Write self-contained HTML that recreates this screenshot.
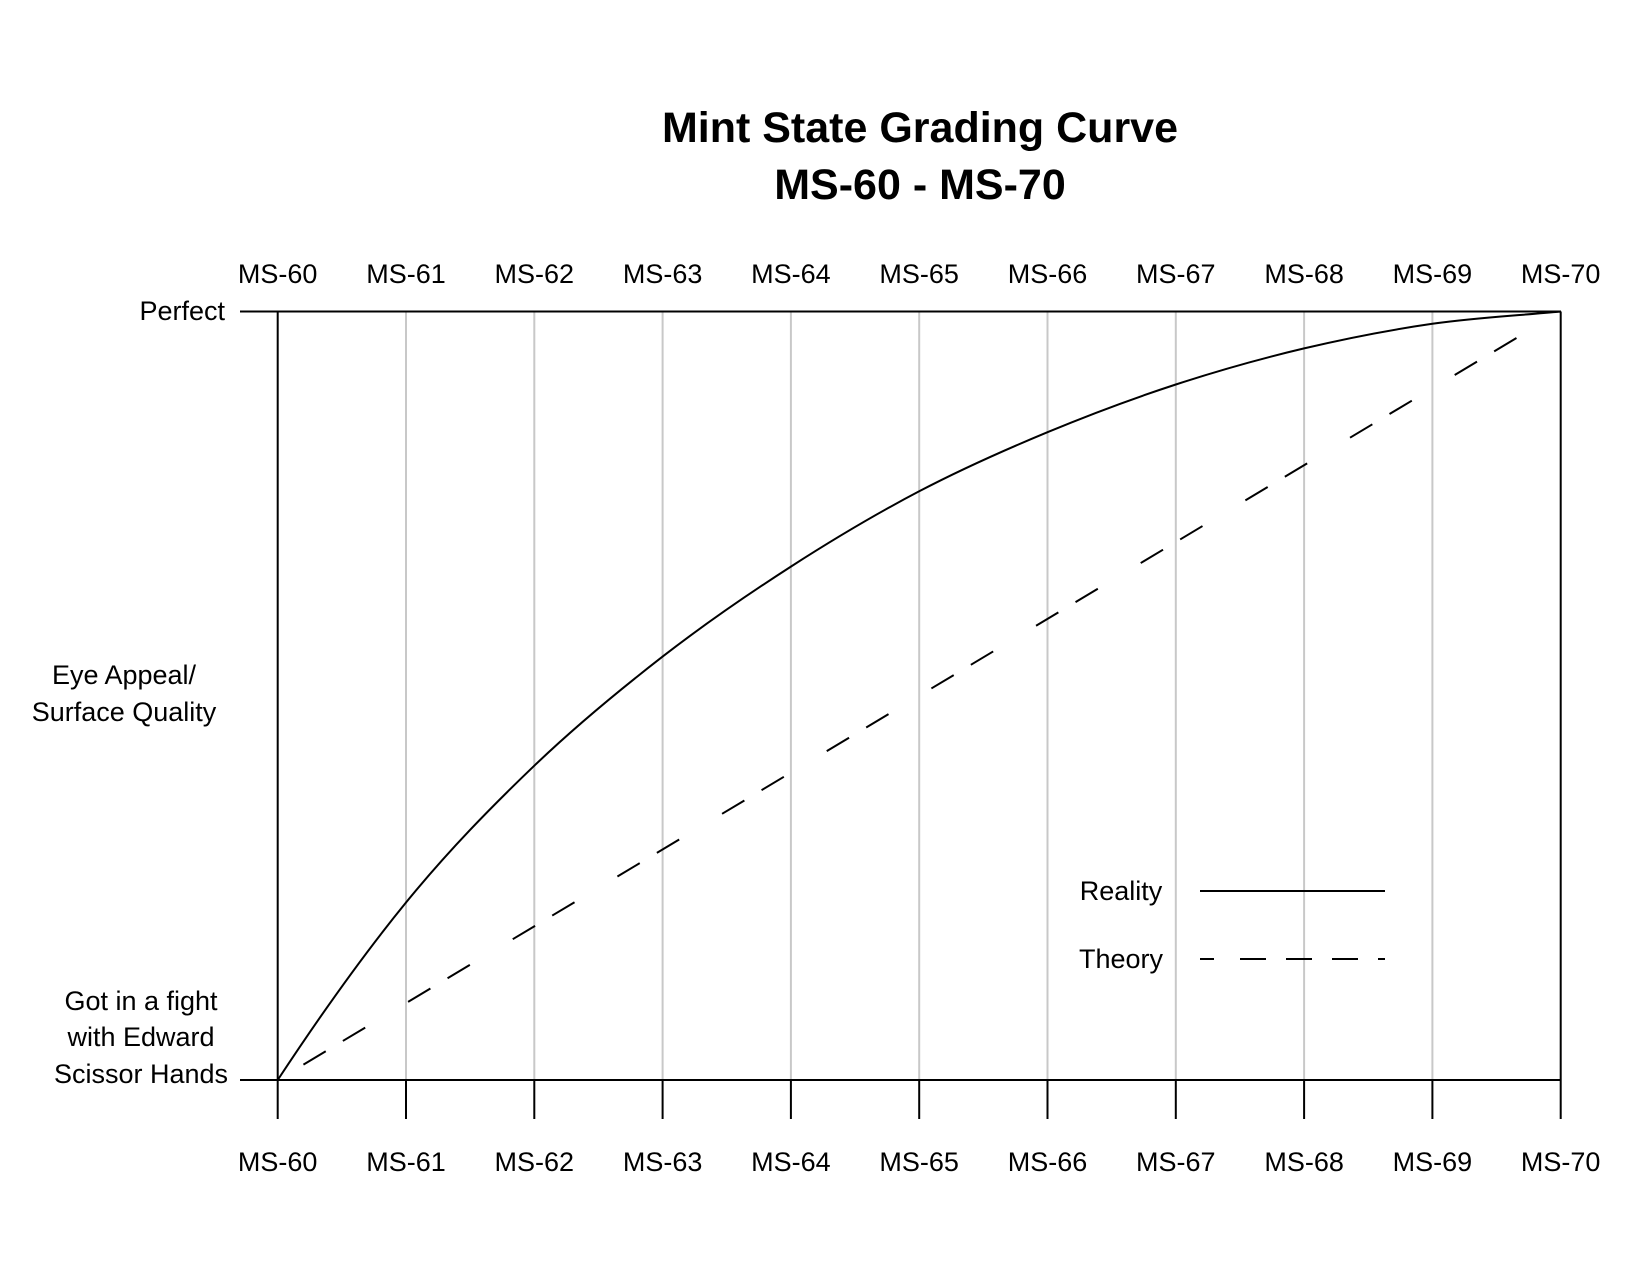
<!DOCTYPE html>
<html><head><style>body{margin:0;background:#fff}svg{display:block}</style></head><body>
<svg width="1650" height="1275" viewBox="0 0 1650 1275" xmlns="http://www.w3.org/2000/svg" font-family="Liberation Sans, sans-serif">
<text x="920" y="142" font-size="43" font-weight="bold" text-anchor="middle">Mint State Grading Curve</text>
<text x="920" y="199" font-size="43" font-weight="bold" text-anchor="middle">MS-60 - MS-70</text>
<g stroke="#c8c8c8" stroke-width="2">
<line x1="406" y1="311.5" x2="406" y2="1080"/><line x1="534.3" y1="311.5" x2="534.3" y2="1080"/><line x1="662.6" y1="311.5" x2="662.6" y2="1080"/><line x1="790.9" y1="311.5" x2="790.9" y2="1080"/><line x1="919.2" y1="311.5" x2="919.2" y2="1080"/><line x1="1047.5" y1="311.5" x2="1047.5" y2="1080"/><line x1="1175.8" y1="311.5" x2="1175.8" y2="1080"/><line x1="1304.1" y1="311.5" x2="1304.1" y2="1080"/><line x1="1432.4" y1="311.5" x2="1432.4" y2="1080"/>
</g>
<g stroke="#000" stroke-width="2" fill="none">
<line x1="240" y1="311.5" x2="1561" y2="311.5"/>
<line x1="240" y1="1080" x2="1561" y2="1080"/>
<line x1="277.7" y1="311.5" x2="277.7" y2="1119"/>
<line x1="1560.7" y1="311.5" x2="1560.7" y2="1119"/>
<line x1="406" y1="1080" x2="406" y2="1119"/><line x1="534.3" y1="1080" x2="534.3" y2="1119"/><line x1="662.6" y1="1080" x2="662.6" y2="1119"/><line x1="790.9" y1="1080" x2="790.9" y2="1119"/><line x1="919.2" y1="1080" x2="919.2" y2="1119"/><line x1="1047.5" y1="1080" x2="1047.5" y2="1119"/><line x1="1175.8" y1="1080" x2="1175.8" y2="1119"/><line x1="1304.1" y1="1080" x2="1304.1" y2="1119"/><line x1="1432.4" y1="1080" x2="1432.4" y2="1119"/>
<path d="M277.7,1080 C320.5,1015 363.2,954.9 406,902.5 C448.8,850.1 491.5,806.7 534.3,765.7 C577.1,724.7 619.8,689.8 662.6,656.6 C705.4,623.4 748.1,594.15 790.9,566.6 C833.7,539.05 876.4,513.7 919.2,491.3 C962,468.9 1004.7,450 1047.5,432.2 C1090.3,414.4 1133,398.5 1175.8,384.5 C1218.6,370.5 1261.3,358.5 1304.1,348.4 C1346.9,338.3 1389.6,329.95 1432.4,323.8 C1475.2,317.65 1517.9,315.6 1560.7,311.5"/>
<line x1="277.7" y1="1080" x2="1560.7" y2="311.5" stroke-dasharray="0 30 26 20 26 20"/>
<line x1="1200" y1="891" x2="1385" y2="891"/>
<line x1="1200" y1="959" x2="1385" y2="959" stroke-dasharray="14 26 26 20 26 20 26 20 26"/>
</g>
<g font-size="27" text-anchor="middle">
<text x="277.7" y="283">MS-60</text><text x="406" y="283">MS-61</text><text x="534.3" y="283">MS-62</text><text x="662.6" y="283">MS-63</text><text x="790.9" y="283">MS-64</text><text x="919.2" y="283">MS-65</text><text x="1047.5" y="283">MS-66</text><text x="1175.8" y="283">MS-67</text><text x="1304.1" y="283">MS-68</text><text x="1432.4" y="283">MS-69</text><text x="1560.7" y="283">MS-70</text>
<text x="277.7" y="1171">MS-60</text><text x="406" y="1171">MS-61</text><text x="534.3" y="1171">MS-62</text><text x="662.6" y="1171">MS-63</text><text x="790.9" y="1171">MS-64</text><text x="919.2" y="1171">MS-65</text><text x="1047.5" y="1171">MS-66</text><text x="1175.8" y="1171">MS-67</text><text x="1304.1" y="1171">MS-68</text><text x="1432.4" y="1171">MS-69</text><text x="1560.7" y="1171">MS-70</text>
<text x="124" y="684">Eye Appeal/</text><text x="124" y="721">Surface Quality</text>
<text x="141" y="1010">Got in a fight</text><text x="141" y="1046">with Edward</text><text x="141" y="1083">Scissor Hands</text>
<text x="1121" y="900">Reality</text><text x="1121" y="968">Theory</text>
</g>
<text x="225" y="320" font-size="27" text-anchor="end">Perfect</text>
</svg>
</body></html>
